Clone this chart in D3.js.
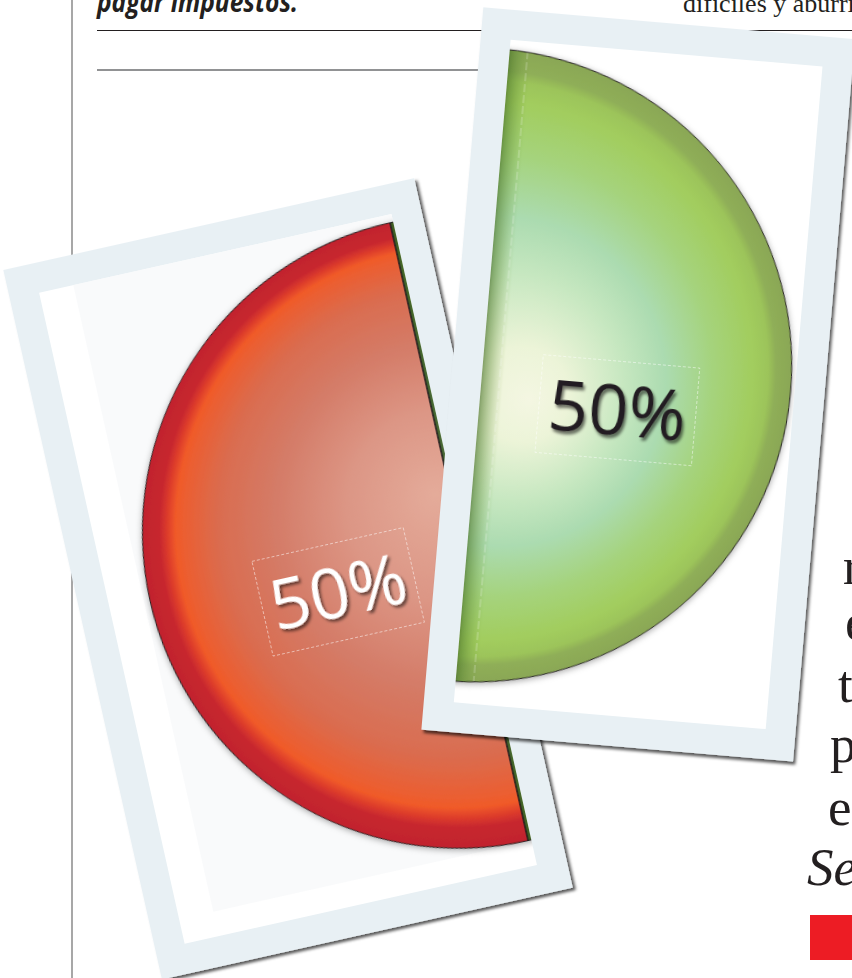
<!DOCTYPE html>
<html><head><meta charset="utf-8">
<script src="https://cdn.jsdelivr.net/npm/d3@7/dist/d3.min.js"></script>
<style>html,body{margin:0;padding:0;background:#fff;}svg{display:block;}</style>
</head><body>
<script>
// ---------------- data ----------------
const sliceNames = ["Verde", "Rojo"];
const sliceValues = [50, 50];
const sliceLabels = ["50%", "50%"];
const headerLeft = "pagar impuestos.";
const headerRight = "difíciles y aburridos";
const columnLines = ["r", "e", "t", "p", "en", "Sen"];

// ---------------- setup ----------------
const W = 852, H = 978;
const svg = d3.select("body").append("svg").attr("width", W).attr("height", H)
  .style("font-family", "'Open Sans', 'Noto Sans', sans-serif");
const defs = svg.append("defs");

function dropShadow(id, dx, dy, sd, op) {
  const f = defs.append("filter").attr("id", id)
    .attr("x", "-20%").attr("y", "-20%").attr("width", "140%").attr("height", "140%");
  f.append("feDropShadow").attr("dx", dx).attr("dy", dy).attr("stdDeviation", sd)
    .attr("flood-color", "#000").attr("flood-opacity", op);
}
dropShadow("cardShadow", 2.5, 3, 1.8, 0.65);
dropShadow("pieShadow", 0, 1.5, 3, 0.35);
dropShadow("textShadow", 2, 3, 1.6, 0.55);

function radial(id, fx, fy, r, stops) {
  const g = defs.append("radialGradient").attr("id", id)
    .attr("gradientUnits", "userSpaceOnUse")
    .attr("cx", 0).attr("cy", 0).attr("r", r).attr("fx", fx).attr("fy", fy);
  stops.forEach(s => g.append("stop").attr("offset", s[0]).attr("stop-color", s[1]));
}
// green slice shading
radial("grad0", 58, 30, 317, [
  [0, "#f4f6e2"], [0.15, "#ecf4d8"], [0.36, "#c6e7c0"], [0.52, "#abdbb0"],
  [0.7, "#a5d37c"], [0.85, "#a2cd5e"], [0.91, "#9cc45a"], [0.94, "#8fae58"], [1, "#8aa755"]
]);
// red slice shading
radial("grad1", -15, -42, 317, [
  [0, "#e4ab9a"], [0.3, "#dc9685"], [0.55, "#d47b67"], [0.74, "#da6c4f"],
  [0.85, "#ea5f33"], [0.885, "#f05a28"], [0.915, "#dc3b2c"], [0.94, "#c7272e"], [1, "#c1232d"]
]);
// dark band along the green slice's straight edge
const chordGrad = defs.append("linearGradient").attr("id", "chordShade")
  .attr("gradientUnits", "userSpaceOnUse").attr("x1", 0).attr("y1", 0).attr("x2", 30).attr("y2", 0);
chordGrad.append("stop").attr("offset", 0).attr("stop-color", "#2f4a1c").attr("stop-opacity", 0.95);
chordGrad.append("stop").attr("offset", 0.35).attr("stop-color", "#4f7a2c").attr("stop-opacity", 0.55);
chordGrad.append("stop").attr("offset", 1).attr("stop-color", "#7aa848").attr("stop-opacity", 0);

// ---------------- page furniture ----------------
svg.append("line").attr("x1", 72).attr("x2", 72).attr("y1", 0).attr("y2", H)
  .attr("stroke", "#8a8a8a").attr("stroke-width", 1.5);
svg.append("line").attr("x1", 97).attr("x2", W).attr("y1", 30.5).attr("y2", 30.5)
  .attr("stroke", "#231f20").attr("stroke-width", 1.2);
svg.append("line").attr("x1", 97).attr("x2", W).attr("y1", 70).attr("y2", 70)
  .attr("stroke", "#6d6e71").attr("stroke-width", 1.5);

svg.append("text").attr("x", 97).attr("y", 12)
  .attr("font-size", 29).attr("font-weight", 700).attr("font-style", "italic")
  .attr("fill", "#231f20").attr("textLength", 201).attr("lengthAdjust", "spacingAndGlyphs")
  .text(headerLeft);
svg.append("text").attr("x", 683).attr("y", 12)
  .attr("font-family", "'Liberation Serif', 'DejaVu Serif', serif")
  .attr("font-size", 26).attr("fill", "#231f20").text(headerRight);

// ---------------- pie cards ----------------
const pie = d3.pie().sort(null).startAngle(0).endAngle(2 * Math.PI);
const arcs = pie(sliceValues);   // [0] green: right half, [1] red: left half

const cards = [
  { x: 3.3, y: 270, angle: -12.6, w: 421, h: 727, border: 30, cx: 387.6, cy: 354.8, r: 316.5,
    show: 1, label: [256.6, 387.1], box: [155, 97], textColor: "#ffffff", tint: true },
  { x: 483.3, y: 7.3, angle: 4.9, w: 373, h: 725, border: 30, cx: 22, cy: 357, r: 317,
    show: 0, label: [168, 390], box: [157, 98], textColor: "#231f20", tint: false }
];

cards.forEach((c, i) => {
  const g = svg.append("g").attr("transform", `translate(${c.x},${c.y}) rotate(${c.angle})`);
  g.append("rect").attr("width", c.w).attr("height", c.h)
    .attr("fill", "#e8f0f4").attr("filter", "url(#cardShadow)");
  const iw = c.w - 2 * c.border, ih = c.h - 2 * c.border;
  g.append("rect").attr("x", c.border).attr("y", c.border).attr("width", iw).attr("height", ih)
    .attr("fill", "#ffffff");
  if (c.tint) {
    g.append("rect").attr("x", c.border + 35).attr("y", c.border).attr("width", iw - 35).attr("height", ih - 25)
      .attr("fill", "#f7f9fa").attr("opacity", 0.8);
  }

  defs.append("clipPath").attr("id", "inner" + i).append("rect")
    .attr("x", c.border).attr("y", c.border).attr("width", iw).attr("height", ih);

  const inner = g.append("g").attr("clip-path", `url(#inner${i})`);
  const pg = inner.append("g").attr("transform", `translate(${c.cx},${c.cy})`)
    .attr("filter", "url(#pieShadow)");
  const arc = d3.arc().innerRadius(0).outerRadius(c.r);

  pg.selectAll("path.slice").data(arcs).join("path").attr("class", "slice")
    .attr("d", arc).attr("fill", (d, j) => `url(#grad${j})`);

  // shading along green slice's straight edge
  defs.append("clipPath").attr("id", "greenSlice" + i).append("path").attr("d", arc(arcs[0]));
  const gs = pg.append("g").attr("clip-path", `url(#greenSlice${i})`);
  gs.append("rect").attr("x", 0).attr("y", -c.r).attr("width", 30).attr("height", 2 * c.r)
    .attr("fill", "url(#chordShade)");
  gs.append("line").attr("x1", 26).attr("x2", 26).attr("y1", -c.r).attr("y2", c.r)
    .attr("stroke", "#ffffff").attr("stroke-opacity", 0.45).attr("stroke-width", 0.8)
    .attr("stroke-dasharray", "8,3");

  pg.selectAll("path.outline").data(arcs).join("path").attr("class", "outline")
    .attr("d", arc).attr("fill", "none").attr("stroke", "#231f20").attr("stroke-width", 1);

  // label
  const lg = g.append("g").attr("transform", `translate(${c.label[0]},${c.label[1]})`);
  lg.append("rect").attr("x", -c.box[0] / 2).attr("y", -c.box[1] / 2)
    .attr("width", c.box[0]).attr("height", c.box[1])
    .attr("fill", "none").attr("stroke", "#ffffff").attr("stroke-opacity", 0.6)
    .attr("stroke-width", 0.8).attr("stroke-dasharray", "3,2");
  lg.append("text").attr("x", 0).attr("y", 25)
    .attr("text-anchor", "middle").attr("font-size", 70).attr("font-weight", 400)
    .attr("fill", c.textColor).attr("filter", "url(#textShadow)")
    .text(sliceLabels[c.show]);
});

// ---------------- right text column ----------------
const colX = [843, 845, 838, 830, 828, 807];
const colY = [584, 640, 702, 762, 825, 885];
svg.append("g").attr("font-family", "'Liberation Serif', 'DejaVu Serif', serif")
  .attr("font-size", 53).attr("fill", "#231f20")
  .selectAll("text").data(columnLines).join("text")
  .attr("x", (d, i) => colX[i]).attr("y", (d, i) => colY[i])
  .attr("font-style", (d, i) => i === columnLines.length - 1 ? "italic" : "normal")
  .text(d => d);

svg.append("rect").attr("x", 810).attr("y", 915).attr("width", 50).attr("height", 45)
  .attr("fill", "#ed1c24");
</script>
</body></html>
